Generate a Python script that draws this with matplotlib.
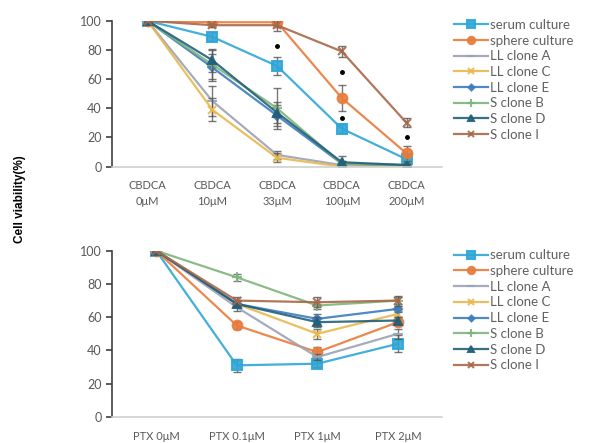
import matplotlib
matplotlib.use('Agg')
import matplotlib.pyplot as plt

# series names and colours
names = ['serum culture', 'sphere culture', 'LL clone A', 'LL clone C',
         'LL clone E', 'S clone B', 'S clone D', 'S clone I']
colors = ['#2EA6D6', '#E97B3C', '#9AA3B5', '#E9B84C',
          '#3C7DBF', '#7DB57A', '#22607A', '#A8684A']
markers = ['s', 'o', '_', 'x', 'D', '+', '^', 'x']
msizes = [7, 7, 7, 6, 4, 7, 6, 6]

# CBDCA panel
cbdca_labels = ['CBDCA\n0μM', 'CBDCA\n10μM', 'CBDCA\n33μM', 'CBDCA\n100μM', 'CBDCA\n200μM']
cbdca_vals = [
    [100, 89, 69, 26, 5],
    [100, 99, 99, 47, 9],
    [100, 45, 8, 1, 1],
    [100, 39, 6, 0, 0],
    [100, 68, 35, 2, 1],
    [100, 70, 40, 2, 1],
    [100, 73, 37, 3, 1],
    [100, 97, 97, 79, 30],
]
cbdca_err = [
    [1, 3, 6, 3, 2],
    [1, 2, 3, 9, 5],
    [1, 10, 3, 1, 1],
    [1, 8, 3, 1, 1],
    [1, 9, 7, 2, 1],
    [1, 10, 14, 2, 1],
    [1, 8, 7, 4, 1],
    [1, 1, 4, 4, 3],
]
# significance marks (x index, y value)
sig_x = [2, 3, 3, 4]
sig_y = [83, 65, 33, 20]

# PTX panel
ptx_labels = ['PTX 0μM', 'PTX 0.1μM', 'PTX 1μM', 'PTX 2μM']
ptx_vals = [
    [100, 31, 32, 44],
    [100, 55, 39, 57],
    [100, 66, 36, 50],
    [100, 68, 50, 62],
    [100, 68, 59, 65],
    [100, 84, 67, 70],
    [100, 68, 57, 58],
    [100, 70, 69, 70],
]
ptx_err = [
    [1, 4, 2, 5],
    [1, 2, 3, 2],
    [1, 2, 2, 3],
    [1, 2, 3, 2],
    [1, 2, 3, 2],
    [1, 2, 2, 2],
    [1, 2, 3, 2],
    [1, 2, 3, 3],
]

plt.rcParams['font.family'] = ['Lato', 'DejaVu Sans']

fig = plt.figure(figsize=(6.15, 4.43), dpi=100)
ax1 = fig.add_axes([0.182, 0.624, 0.537, 0.329])
ax2 = fig.add_axes([0.182, 0.059, 0.537, 0.375])


def draw(ax, labels, vals, errs, anchor_y):
    xs = list(range(len(labels)))
    for i in range(len(names)):
        # error bars first, then the line with markers on top
        ax.errorbar(xs, vals[i], yerr=errs[i], fmt='none', elinewidth=1.0,
                    capsize=3, ecolor='#555555', alpha=0.8)
        ax.plot(xs, vals[i], color=colors[i], marker=markers[i],
                markersize=msizes[i], markeredgewidth=1.5, linewidth=1.6,
                label=names[i], alpha=0.9)
    ax.set_ylim(0, 100)
    ax.set_xlim(-0.55, len(labels) - 0.45)
    ax.set_yticks([0, 20, 40, 60, 80, 100])
    ax.set_xticks(xs)
    ax.set_xticklabels(labels, linespacing=1.5)
    for s in ['top', 'right']:
        ax.spines[s].set_visible(False)
    ax.spines['left'].set_color('#404040')
    ax.spines['left'].set_linewidth(1.2)
    ax.spines['bottom'].set_color('#D0D0D0')
    ax.spines['bottom'].set_linewidth(1.2)
    ax.tick_params(axis='y', colors='#404040', labelcolor='#595959', labelsize=9, length=4, width=1.2)
    ax.tick_params(axis='x', length=0, labelcolor='#595959', labelsize=8, pad=10)
    leg = ax.legend(loc='upper left', bbox_to_anchor=(1.02, anchor_y), frameon=False,
                    fontsize=9.5, labelspacing=0.28, handlelength=2.6, handletextpad=0.1,
                    borderaxespad=0, markerscale=0.75)
    for t in leg.get_texts():
        t.set_color('#606060')


draw(ax1, cbdca_labels, cbdca_vals, cbdca_err, 1.05)
ax1.plot(sig_x, sig_y, 'o', color='black', markersize=2.5, linestyle='none')
draw(ax2, ptx_labels, ptx_vals, ptx_err, 1.04)

fig.text(0.033, 0.551, 'Cell viability(%)', rotation=90, va='center', ha='center',
         fontsize=8.5, fontweight='bold', family=['Liberation Sans', 'DejaVu Sans'])

fig.savefig('out.png', dpi=100)
